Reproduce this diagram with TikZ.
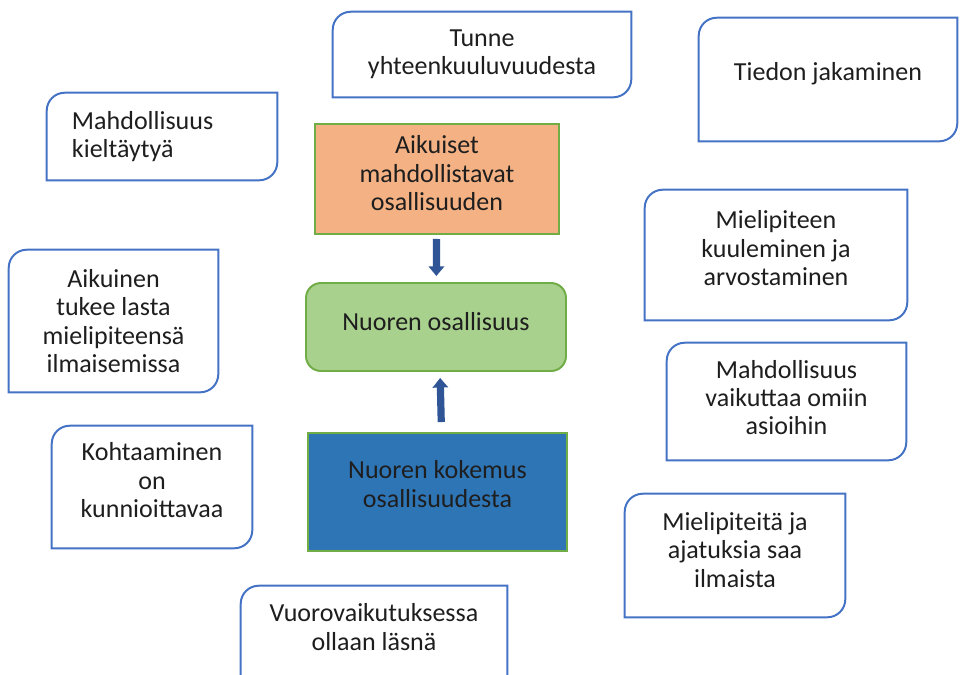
\documentclass[tikz,border=0pt]{standalone}
\usepackage{fontspec}
\setmainfont{Carlito}
\usepackage{xcolor}
\definecolor{cBlue}{HTML}{4472C4}
\definecolor{cGreen}{HTML}{70AD47}
\definecolor{cOrange}{HTML}{F4B183}
\definecolor{cLight}{HTML}{A9D18E}
\definecolor{cDeep}{HTML}{2E75B6}
\definecolor{cArrow}{HTML}{2F5597}
\definecolor{cText}{HTML}{1E1E1E}
\usepackage{tikz}
\usetikzlibrary{arrows.meta}
\tikzset{
  node-bubble/.style={align=center,inner sep=0pt,text=cText,
    font=\fontsize{18.5}{20}\selectfont},
  node-core/.style={draw=cGreen,line width=1.4pt,align=center,text=cText,
    font=\fontsize{18.5}{20}\selectfont},
  bubble-line/.style={draw=cBlue,line width=1.4pt},
  arrow/.style={-{Triangle[width=3.8mm,length=2.4mm]},line width=1.8mm,
    draw=cArrow},
}
\begin{document}
\begin{tikzpicture}[x=0.25mm,y=-0.25mm]
  \clip (0,0) rectangle (960,674);
  \fill[white] (0,0) rectangle (960,674);
  % keskiosa
  \node[node-core,fill=cOrange,minimum width=61mm,minimum height=27.5mm,
    text depth=3mm] (aikuiset) at (437,179) {Aikuiset\\mahdollistavat\\osallisuuden};
  \node[node-core,fill=cLight,rounded corners=3.75mm,minimum width=65mm,
    minimum height=22mm,text depth=3mm] (osallisuus) at (436,327) {Nuoren osallisuus};
  \node[node-core,fill=cDeep,minimum width=64.75mm,minimum height=29.5mm,
    text depth=4mm] (kokemus) at (437.5,492) {Nuoren kokemus\\osallisuudesta};
  \draw[arrow,shorten <=1mm,shorten >=1.5mm] (aikuiset) -- (osallisuus);
  \draw[arrow,shorten <=2.5mm,shorten >=1.5mm]
    ([xshift=1mm]kokemus.north) -- ([xshift=1mm]osallisuus.south);
  % kuplat
  \node[node-bubble,minimum width=74.5mm,minimum height=21.25mm]
    (tunne) at (482,54.5) {Tunne\\yhteenkuuluvuudesta};
  \node[node-bubble,minimum width=64.5mm,minimum height=30.75mm,text depth=3.8mm]
    (tieto) at (828,79.5) {Tiedon jakaminen};
  \node[node-bubble,align=left,text width=45mm,minimum width=57.5mm,
    minimum height=21.75mm] (kielto) at (162,136.5) {Mahdollisuus\\kieltäytyä};
  \node[node-bubble,minimum width=52.25mm,minimum height=35.5mm]
    (tuki) at (113.5,321) {Aikuinen\\tukee lasta\\mielipiteensä\\ilmaisemissa};
  \node[node-bubble,minimum width=50mm,minimum height=30.5mm,text depth=3.5mm]
    (kohtaaminen) at (152,487) {Kohtaaminen\\on\\kunnioittavaa};
  \node[node-bubble,minimum width=65.5mm,minimum height=32.5mm,text depth=3.5mm]
    (kuuleminen) at (776,255) {Mielipiteen\\kuuleminen ja\\arvostaminen};
  \node[node-bubble,minimum width=59.75mm,minimum height=29.25mm,text depth=2.2mm]
    (vaikutus) at (786.5,401.5) {Mahdollisuus\\vaikuttaa omiin\\asioihin};
  \node[node-bubble,minimum width=55mm,minimum height=30.75mm,text depth=2.8mm]
    (ilmaisu) at (735,555.5) {Mielipiteitä ja\\ajatuksia saa\\ilmaista};
  \node[node-bubble,minimum width=66.5mm,minimum height=20.5mm]
    (vuoro) at (374,627) {Vuorovaikutuksessa\\ollaan läsnä};
  \foreach \n in {tunne,tieto,kielto,tuki,kohtaaminen,kuuleminen,vaikutus,ilmaisu}
    \draw[bubble-line] (\n.south west)
      -- ([yshift=-4.5mm]\n.north west) arc[start angle=180,end angle=90,radius=4.5mm]
      -- (\n.north east)
      -- ([yshift=4.5mm]\n.south east) arc[start angle=0,end angle=-90,radius=4.5mm]
      -- cycle;
  \draw[bubble-line] ([yshift=-10mm]vuoro.south west)
    -- ([yshift=-4.5mm]vuoro.north west) arc[start angle=180,end angle=90,radius=4.5mm]
    -- (vuoro.north east) -- ([yshift=-10mm]vuoro.south east);
\end{tikzpicture}
\end{document}
